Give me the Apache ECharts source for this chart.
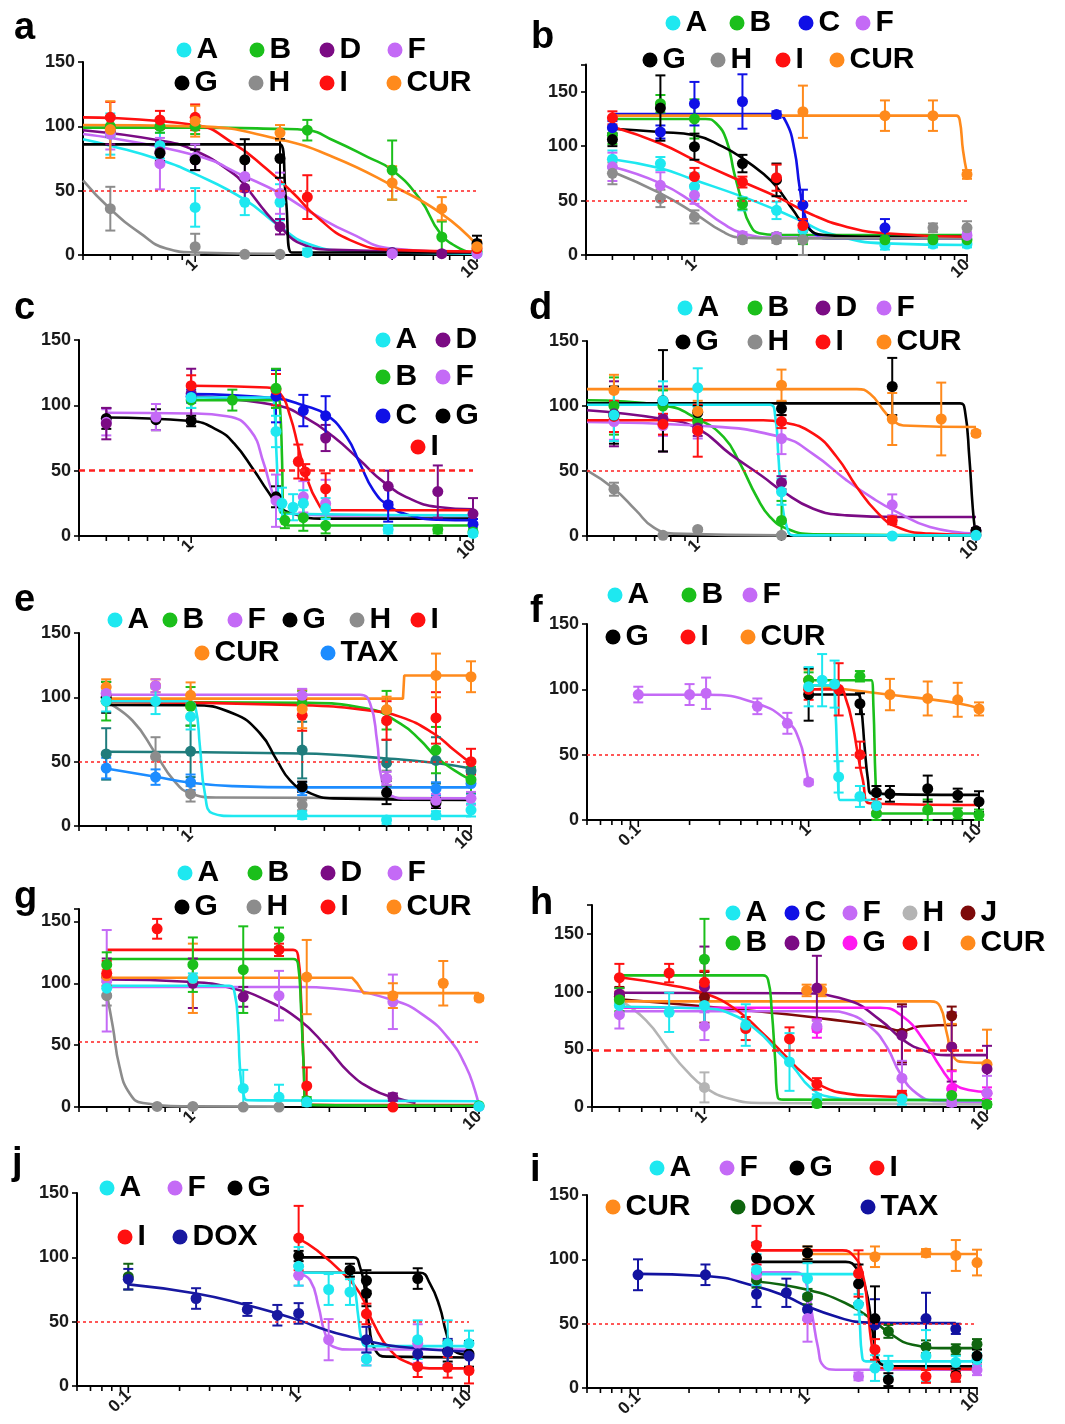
<!DOCTYPE html>
<html>
<head>
<meta charset="utf-8">
<title>Dose-response panels a-j</title>
<script src="https://cdn.jsdelivr.net/npm/echarts@6.0.0/dist/echarts.min.js"></script>
<style>
  html, body { margin: 0; padding: 0; background: #fff; }
  #chart { width: 1065px; height: 1424px; }
</style>
</head>
<body>
<div id="chart"></div>
<script>
// tick labels
var yTickLabels = [0, 50, 100, 150];
var xTickLabels = [0.1, 1, 10];

// points are [concentration, viability %, error]; *_fit are knots

// ---- panel a ----
var a_A = [[0.5, 94, 16], [0.75, 85, 10], [1, 37, 15], [1.5, 41, 10], [2, 41, 14], [2.5, 2, 3], [5, 2, 2], [10, 1, 2]];
var a_A_fit = [[0.4, 90], [0.5, 85], [0.75, 74], [1, 63], [1.5, 43], [2, 22], [2.5, 9], [3.5, 3], [5, 2], [10, 1]];
var a_B = [[0.5, 100, 8], [0.75, 100, 5], [1, 100, 6], [2.5, 97, 8], [5, 66, 23], [7.5, 14, 12], [10, 3, 3]];
var a_B_fit = [[0.4, 99], [1, 99], [2, 98], [2.5, 97], [3.1, 89], [4.1, 76], [5, 66], [6.3, 43], [7.4, 17], [8.7, 5], [10, 1]];
var a_D = [[0.5, 96, 10], [0.75, 80, 8], [1, 74, 8], [1.5, 52, 10], [2, 22, 6], [5, 2, 2], [7.5, 1, 2]];
var a_D_fit = [[0.4, 97], [0.75, 89], [1, 81], [1.37, 63], [1.5, 54], [1.8, 32], [2, 22], [2.36, 9], [3.1, 4], [10, 2]];
var a_F = [[0.5, 94, 12], [0.75, 71, 20], [1, 76, 10], [1.5, 61, 12], [2, 48, 16], [5, 1, 2], [10, 1, 2]];
var a_F_fit = [[0.4, 94], [1, 77.6], [1.5, 61], [2, 48], [2.63, 32], [3.55, 17], [5, 5], [10, 2]];
var a_G = [[0.75, 79, 6], [1, 74, 8], [1.5, 74, 16], [2, 75, 15], [10, 9, 6]];
var a_G_fit = [[0.4, 86], [2.0, 86], [2.1, 43], [2.2, 2], [10, 2]];
var a_H = [[0.5, 36, 17], [1, 6.5, 10], [1.5, 0.5, 1], [2, 0.5, 1]];
var a_H_fit = [[0.4, 58], [0.5, 35.7], [0.64, 16.8], [0.79, 5], [1, 2], [2, 1]];
var a_I = [[0.5, 107, 12], [0.75, 105, 7], [1, 107, 10], [2.5, 45, 17], [10, 5, 3]];
var a_I_fit = [[0.4, 107], [1, 101], [1.37, 86.6], [1.79, 67], [2.23, 48], [2.7, 29.7], [3.55, 11.6], [5, 4], [10, 2.6]];
var a_CUR = [[0.5, 97.5, 22], [1, 104, 12], [2, 95, 6], [5, 56, 13], [7.5, 36, 9], [10, 6.5, 5]];
var a_CUR_fit = [[0.4, 101], [1, 100], [2, 89.7], [3.1, 76], [5, 54], [7.5, 32], [10, 7.8]];

// ---- panel b ----
var b_A = [[0.5, 88, 8], [0.75, 84, 6], [1, 63, 12], [1.5, 47, 6], [2, 41, 8], [2.5, 23, 6], [5, 9, 4], [7.5, 10, 3], [10, 10, 3]];
var b_A_fit = [[0.5, 88], [0.75, 79.6], [1, 68.9], [1.5, 53.6], [2, 41.3], [2.5, 30.6], [3.1, 20], [5, 10.7], [10, 9.2]];
var b_B = [[0.5, 110, 8], [0.75, 139, 8], [1, 125, 18], [1.5, 47, 5], [2, 17, 3], [2.5, 14, 4], [5, 14, 3], [7.5, 14, 3], [10, 14, 3]];
var b_B_fit = [[0.5, 125], [1.1, 125], [1.2, 121], [1.31, 105.6], [1.4, 75], [1.5, 47.4], [1.59, 29], [1.73, 20], [2, 18.4], [10, 18.4]];
var b_C = [[0.5, 117, 6], [0.75, 113, 6], [1, 139, 20], [1.5, 141, 25], [2, 129, 3], [2.5, 46, 14], [5, 25, 8]];
var b_C_fit = [[0.5, 129.5], [2, 129.5], [2.17, 122], [2.33, 96], [2.43, 62.7], [2.57, 32], [2.8, 18.4], [3.13, 15.3], [10, 15.3]];
var b_F = [[0.5, 81, 13], [0.75, 64, 12], [1, 55, 8], [1.5, 18, 3], [2, 17, 3], [10, 18, 3]];
var b_F_fit = [[0.5, 81], [0.75, 65.8], [1, 47.4], [1.27, 29], [1.5, 20], [2, 16], [10, 16]];
var b_G = [[0.5, 106, 6], [0.75, 135, 30], [1, 99.5, 12], [1.5, 84, 8], [2, 69, 15]];
var b_G_fit = [[0.5, 116], [0.75, 113], [1, 110], [1.27, 99.5], [1.5, 88.8], [1.78, 75], [2, 62.7], [2.3, 41.3], [2.57, 26], [2.96, 18.4], [4.15, 16.8], [10, 16.8]];
var b_H = [[0.5, 75, 10], [0.75, 52, 8], [1, 35, 6], [1.5, 14, 3], [2, 14, 3], [2.5, 14, 14], [7.5, 25, 4], [10, 25, 6]];
var b_H_fit = [[0.5, 76.5], [0.75, 56.6], [1, 38.3], [1.27, 21.4], [1.5, 16], [2, 15.3], [10, 15.3]];
var b_I = [[0.5, 126, 6], [1, 72, 8], [1.5, 67, 5], [2, 71, 12], [2.5, 27, 6]];
var b_I_fit = [[0.5, 117.8], [0.75, 102.5], [1, 87.2], [1.5, 67.3], [2, 53.6], [2.72, 36.7], [3.6, 26], [5, 20], [10, 16.8]];
var b_CUR = [[2.5, 131.6, 24], [5, 128, 14], [7.5, 128, 14], [10, 74, 4]];
var b_CUR_fit = [[0.5, 128], [9.14, 128], [9.4, 124], [9.67, 96], [10, 75]];

// ---- panel c ----
var c_A = [[1, 106, 8], [2, 80, 12], [2.1, 25, 12], [2.3, 22, 10], [2.5, 25, 10], [3, 21, 8], [5, 5, 3], [10, 2, 3]];
var c_A_fit = [[1, 106], [1.94, 106], [1.97, 101], [2.01, 60.6], [2.06, 19.7], [2.19, 17], [10, 15.8]];
var c_B = [[1, 104, 6], [1.4, 104, 8], [2, 113, 15], [2.15, 12, 6], [2.5, 14, 10], [3, 8, 6], [7.5, 5, 3], [10, 3, 3]];
var c_B_fit = [[1, 104], [2.04, 104], [2.07, 96], [2.1, 60.6], [2.13, 9.5], [2.25, 8], [10, 8]];
var c_C = [[1, 107, 5], [2, 107, 20], [2.5, 96, 12], [3, 92, 15], [5, 24, 13], [10, 9, 4]];
var c_C_fit = [[1, 108.6], [2, 105.3], [2.5, 100], [3.03, 92.5], [3.56, 75.9], [3.97, 55.5], [4.43, 35], [5, 23.5], [5.97, 15.8], [7.5, 12.5], [10, 12]];
var c_D = [[0.5, 86, 12], [1, 109, 19], [3, 75, 10], [5, 38, 12], [7.5, 34, 20], [10, 17, 12]];
var c_D_fit = [[1, 107], [2, 100], [2.57, 90], [3.2, 75.9], [3.97, 58], [4.81, 41.4], [5.97, 28.6], [7.5, 22.2], [10, 20.4]];
var c_F = [[0.5, 87, 10], [0.75, 91, 10], [2, 27, 20], [2.5, 30, 12], [3, 25, 18]];
var c_F_fit = [[0.5, 94.3], [1, 93.8], [1.34, 91.7], [1.62, 81], [1.81, 55.5], [1.93, 35], [2.07, 21], [2.25, 17], [3.2, 15.8], [10, 15.8]];
var c_G = [[0.5, 90, 8], [0.75, 89, 8], [1, 88, 4], [2, 30, 8]];
var c_G_fit = [[0.5, 90.7], [1, 88], [1.24, 81], [1.42, 70.8], [1.67, 50.3], [1.86, 35], [2.07, 22], [2.31, 17], [2.87, 13.3], [10, 13.3]];
var c_I = [[1, 115, 8], [2, 112, 12], [2.4, 57, 13], [2.54, 49, 6], [3, 36, 12]];
var c_I_fit = [[1, 115], [1.86, 113.7], [2.07, 109], [2.25, 91], [2.4, 68], [2.57, 45], [2.79, 27], [3.03, 19.7], [10, 19.7]];

// ---- panel d ----
var d_A = [[0.5, 93, 20], [0.75, 104, 15], [1, 114, 15], [2, 34, 10], [5, 0, 1], [10, 0.5, 1]];
var d_A_fit = [[0.4, 101], [1.82, 101], [1.9, 91.5], [1.95, 60.8], [2, 30], [2.09, 7], [2.21, 0.5], [10, 0.5]];
var d_B = [[0.5, 100, 22], [0.75, 100, 12], [1, 88, 8], [2, 12, 15], [10, 1, 1]];
var d_B_fit = [[0.4, 104.4], [0.75, 100.5], [1, 90], [1.24, 76], [1.42, 55.6], [1.63, 30], [1.82, 14.6], [2.09, 5.6], [2.6, 1.3], [10, 0.5]];
var d_D = [[0.5, 94, 25], [0.75, 90, 25], [1, 83, 6], [2, 41, 5], [10, 4, 2]];
var d_D_fit = [[0.4, 96.7], [0.75, 90], [1, 82.6], [1.31, 63], [1.72, 45.4], [2, 35], [2.6, 21], [3.43, 15.9], [5.2, 14.6], [10, 14.6]];
var d_F = [[0.5, 88, 14], [0.75, 85, 8], [1, 81, 6], [2, 75, 12], [5, 24, 8], [10, 0.5, 1]];
var d_F_fit = [[0.4, 87.7], [1, 85], [2, 76], [2.6, 63], [3.43, 42.8], [4.28, 28.7], [5.19, 18.5], [6.83, 7], [10, 1.8]];
var d_G = [[0.5, 93, 22], [0.75, 104, 39], [1, 95, 5], [2, 98, 5], [5, 115, 22], [10, 4, 2]];
var d_G_fit = [[0.4, 102], [8.77, 102], [9.12, 96.7], [9.46, 60.8], [9.73, 22.3], [9.92, 4.4], [10, 2.3]];
var d_H = [[0.5, 36, 5], [0.75, 0.5, 1], [1, 5, 1], [2, 0.5, 1]];
var d_H_fit = [[0.4, 50.5], [0.5, 36.4], [0.6, 19.7], [0.69, 7], [0.82, 1.8], [2, 0.5]];
var d_I = [[0.5, 92, 12], [0.75, 86, 8], [1, 81, 20], [2, 88, 5], [5, 12, 3]];
var d_I_fit = [[0.4, 89], [1.72, 89], [2, 87.7], [2.6, 78.7], [3.16, 60.8], [3.73, 37.7], [4.4, 18.5], [5.19, 7], [6.83, 1.8], [10, 0.8]];
var d_CUR = [[0.5, 112, 12], [1, 96, 8], [2, 116, 12], [5, 90, 20], [7.5, 90, 28], [10, 79, 2]];
var d_CUR_fit = [[0.4, 113], [3.73, 113], [4.16, 109.5], [4.65, 96.7], [5.02, 89], [5.48, 85], [10, 83.8]];

// ---- panel e ----
var e_A = [[0.5, 97, 8], [0.75, 97, 10], [1, 85, 10], [2.5, 8.5, 3], [5, 4.7, 3], [7.5, 8.5, 3], [10, 12.4, 5]];
var e_A_fit = [[0.5, 97], [0.99, 97], [1.04, 92.6], [1.08, 61.5], [1.125, 25], [1.2, 9.8], [1.42, 7.8], [10, 7.8]];
var e_B = [[0.5, 97, 15], [1, 93, 15], [2.5, 95, 10], [5, 90, 15], [7.5, 59, 18], [10, 36, 10]];
var e_B_fit = [[0.5, 96.5], [2.5, 95.7], [4.25, 91.3], [5.6, 79.6], [6.6, 66.7], [7.5, 53.8], [8.7, 43.4], [10, 35.7]];
var e_F = [[0.5, 103, 5], [0.75, 109, 5], [2.5, 101.6, 5], [5, 37, 5], [7.5, 20, 5], [10, 21.5, 5]];
var e_F_fit = [[0.5, 102], [4.02, 102], [4.37, 95], [4.62, 66.7], [4.81, 35.7], [5.15, 24], [5.9, 21.5], [10, 21.5]];
var e_G = [[0.5, 100, 12], [2.5, 30.5, 4], [5, 26, 9], [7.5, 18, 4]];
var e_G_fit = [[0.5, 94], [1, 93.9], [1.42, 87.4], [1.77, 71.9], [2.03, 51.2], [2.26, 35.7], [2.6, 26.6], [3.23, 21.5], [10, 20.2]];
var e_H = [[0.75, 54, 15], [1, 25, 6], [2.5, 16.3, 4], [5, 37, 6]];
var e_H_fit = [[0.5, 96.5], [0.62, 82], [0.75, 56.4], [0.87, 35.7], [1, 25.3], [1.24, 22.2], [10, 21.5]];
var e_I = [[2.5, 86, 12], [5, 82, 15], [7.5, 84, 20], [10, 50, 10]];
var e_I_fit = [[0.5, 96.5], [2.5, 93.9], [4.25, 90], [5.6, 84.8], [7.36, 71.9], [8.7, 59], [10, 48.6]];
var e_CUR = [[0.5, 108, 6], [0.75, 109, 5], [1, 101.6, 10], [2.5, 91, 15], [5, 90.5, 10], [7.5, 117, 17], [10, 116, 12]];
var e_CUR_fit = [[0.5, 99], [5.72, 99], [5.78, 117], [10, 117]];
var e_TAX = [[0.5, 45, 8], [0.75, 38, 6], [1, 34, 6], [2.5, 29, 5], [7.5, 29, 5], [10, 33, 8]];
var e_TAX_fit = [[0.5, 44.7], [0.75, 38.3], [1, 33.6], [1.42, 31], [2.5, 30], [10, 30]];
var e_X = [[0.5, 56, 20], [1, 58, 20], [2.5, 59, 22], [5, 49, 18], [7.5, 51, 18], [10, 43, 8]];
var e_X_fit = [[0.5, 57.7], [2.5, 56.4], [5, 52.5], [7.5, 49], [10, 44.7]];

// ---- panel f ----
var f_A = [[1, 102, 15], [1.2, 107, 20], [1.42, 104, 18], [1.5, 33, 12], [2, 18, 8], [2.5, 11, 8]];
var f_A_fit = [[1, 103], [1.4, 103], [1.44, 81.8], [1.48, 40.9], [1.53, 15.3], [2.5, 15.3]];
var f_B = [[1, 107, 6], [2, 110, 4], [2.5, 5, 5], [5, 7.7, 8], [7.5, 5, 4], [10, 4, 4]];
var f_B_fit = [[1, 107], [2.33, 107], [2.4, 86.9], [2.47, 30.7], [2.55, 5], [10, 5]];
var f_F = [[0.1, 96, 6], [0.2, 96, 8], [0.25, 97, 12], [0.5, 87, 6], [0.75, 74, 8], [1, 29, 2]];
var f_F_fit = [[0.1, 95.8], [0.25, 95.8], [0.5, 89], [0.75, 75.4], [0.88, 61.3], [0.96, 40.9], [1, 28.9]];
var f_G = [[1, 96, 20], [2, 89, 8], [2.5, 21, 5], [3, 20, 6], [5, 24, 10], [7.5, 19, 5], [10, 14, 8]];
var f_G_fit = [[1, 96], [1.94, 96], [2.03, 86.9], [2.13, 56.2], [2.23, 30.7], [2.33, 20.4], [10, 19.2]];
var f_I = [[1, 100, 8], [1.5, 100, 20], [2, 50, 10], [2.5, 11, 5]];
var f_I_fit = [[1, 100], [1.52, 100], [1.66, 92], [1.82, 71.6], [1.94, 51], [2.08, 30.7], [2.28, 12.8], [10, 11.5]];
var f_CUR = [[1, 107, 8], [3, 96, 12], [5, 93, 13], [7.5, 92, 13], [10, 85, 5]];
var f_CUR_fit = [[1, 103.5], [3, 95.8], [5, 92.5], [7.5, 89.4], [10, 85.6]];

// ---- panel g ----
var g_A = [[0.5, 96, 5], [1, 104, 4], [1.5, 15, 15], [2, 8, 10], [2.5, 4, 3], [10, 0.5, 1]];
var g_A_fit = [[0.5, 98], [1.34, 98], [1.4, 91.8], [1.44, 65], [1.46, 32.7], [1.5, 11.3], [1.56, 5.4], [10, 4.6]];
var g_B = [[0.5, 115, 10], [1, 115, 22], [1.5, 111, 35], [2, 137, 8], [2.5, 5, 3], [10, 1, 1]];
var g_B_fit = [[0.5, 119.6], [2.24, 119.6], [2.33, 116], [2.39, 78], [2.44, 32.7], [2.49, 1.9], [10, 1]];
var g_D = [[0.5, 105, 15], [1, 100, 20], [1.5, 89, 8], [5, 8, 3]];
var g_D_fit = [[0.5, 103], [1, 101], [1.38, 95.8], [1.8, 86.4], [2.36, 70.3], [2.93, 48.8], [3.53, 27.4], [4.26, 14], [5, 8], [6, 3.2]];
var g_F = [[0.5, 102, 41], [2, 90, 20], [5, 85, 22], [10, 0.5, 1]];
var g_F_fit = [[0.5, 97], [2.36, 97], [3.09, 95.8], [5, 86.4], [6.5, 73], [7.9, 54.2], [9, 32.7], [9.66, 14], [10, 0.5]];
var g_G = [];
var g_H = [[0.5, 90, 8], [0.75, 0.5, 1], [1, 0.5, 1], [1.5, 0, 1], [2, 0, 1]];
var g_H_fit = [[0.5, 92], [0.525, 65], [0.554, 32.7], [0.6, 11.3], [0.67, 3.2], [1, 0.5], [2, 0.3]];
var g_I = [[0.5, 108, 10], [0.75, 144, 8], [2, 127, 5], [2.5, 17, 15], [5, 0, 1]];
var g_I_fit = [[0.5, 127], [2.24, 127], [2.33, 122.6], [2.39, 86.4], [2.44, 32.7], [2.49, 2], [10, 1.5]];
var g_CUR = [[0.5, 106, 5], [1, 104, 28], [2.5, 105, 30], [5, 90, 10], [7.5, 100, 18], [10, 88, 2]];
var g_CUR_fit = [[0.5, 104.5], [3.6, 104.5], [3.75, 100], [3.95, 92], [10, 92]];

// ---- panel h ----
var h_A = [[0.5, 88, 8], [0.75, 82, 17], [1, 88, 18], [1.4, 71, 18], [2, 39, 25], [2.5, 7, 4], [5, 7, 5]];
var h_A_fit = [[0.5, 86.9], [1, 85.4], [1.23, 81], [1.53, 66.6], [1.8, 49.2], [2.06, 34.8], [2.36, 17.4], [2.78, 8.7], [3.65, 6.4], [10, 5.8]];
var h_B = [[0.5, 93, 10], [1, 128, 35], [2.5, 3, 3], [7.5, 10, 5], [10, 2.3, 2]];
var h_B_fit = [[0.5, 114], [1.61, 114], [1.68, 110], [1.73, 84], [1.78, 40.5], [1.82, 8], [1.9, 6.4], [10, 5.8]];
var h_C = [];
var h_D = [[0.5, 98, 5], [1, 104, 35], [2.5, 103, 28], [5, 62, 25], [7.5, 52, 30], [10, 33, 20]];
var h_D_fit = [[0.5, 99], [2.12, 98.5], [3.19, 92.7], [4.19, 75.3], [5.06, 57.9], [5.96, 49.2], [7.2, 44.9], [10, 44.9]];
var h_F = [[0.5, 80, 12], [1, 70, 12], [2.5, 70, 5], [5, 25, 15], [7.5, 4, 3], [10, 12, 15]];
var h_F_fit = [[0.5, 83], [2.78, 83], [3.19, 81], [3.86, 69.5], [4.42, 52], [4.93, 29], [5.65, 11.6], [6.65, 5.2], [10, 4.3]];
var h_G = [[2.5, 68, 8], [7.5, 16, 15], [10, 12, 5]];
var h_G_fit = [[0.5, 86], [4.19, 86], [5.06, 78], [5.96, 58], [6.83, 34.8], [7.62, 20.3], [8.73, 14.5], [10, 13]];
var h_H = [[0.5, 90, 8], [1, 17, 13]];
var h_H_fit = [[0.5, 92.7], [0.62, 75.3], [0.75, 49.2], [0.86, 31.9], [1, 17.4], [1.23, 7.2], [1.61, 3.5], [10, 2.3]];
var h_I = [[0.5, 112, 12], [0.75, 116, 8], [1, 108, 10], [1.4, 68, 10], [2, 59, 10], [2.5, 20, 5], [5, 10, 4]];
var h_I_fit = [[0.5, 112.4], [0.75, 105.7], [1, 98.5], [1.3, 84], [1.61, 63.7], [1.9, 46.3], [2.24, 29], [2.64, 17.4], [3.19, 11.6], [4.19, 9.3], [5, 8.7]];
var h_J = [[0.5, 96, 8], [1, 95, 22], [5, 64, 25], [7.5, 79, 8]];
var h_J_fit = [[0.5, 93.3], [1.6, 82.5], [2.78, 75.9], [4.19, 70], [5, 66], [5.8, 70], [7.8, 71]];
var h_CUR = [[2.3, 101, 5], [2.6, 101, 5], [7.5, 52, 20], [10, 37, 30]];
var h_CUR_fit = [[0.5, 91.5], [6.3, 91.5], [6.83, 86.9], [7.21, 63.7], [7.62, 43.4], [8.26, 39], [10, 38.2]];

// ---- panel j ----
var j_A = [[1, 93, 15], [1.5, 75, 12], [2, 73, 10], [2.5, 21, 5], [5, 36, 15], [7.5, 33, 18], [10, 33, 10]];
var j_A_fit = [[1, 88], [1.92, 88], [2.1, 79.6], [2.24, 53.8], [2.35, 35.7], [2.51, 31], [10, 31]];
var j_F = [[1, 86, 8], [1.5, 36, 16], [2.5, 21, 5], [5, 33, 15]];
var j_F_fit = [[1, 87.4], [1.17, 82], [1.31, 61.5], [1.43, 40.9], [1.6, 30.5], [2, 28.4], [10, 28.4]];
var j_G = [[1, 101, 4], [2, 90, 5], [2.5, 82, 8], [2.5, 72, 10], [5, 83.5, 8], [7.5, 27, 8], [10, 25, 10]];
var j_G_fit = [[1, 100], [2.1, 100], [2.29, 92.6], [2.45, 74.5], [2.6, 46], [2.81, 28], [3.28, 22.8], [10, 22.2]];
var j_G2_fit = [[1, 88], [5.15, 88], [5.9, 79.6], [6.73, 61.5], [7.37, 40.9], [8.06, 28], [10, 24]];
var j_I = [[1, 115, 25], [2.5, 56, 8], [5, 15, 8], [7.5, 14.5, 8], [10, 12, 10]];
var j_I_fit = [[1, 114.6], [1.28, 105.5], [1.83, 87.4], [2.29, 72], [2.75, 48.6], [3.44, 28], [4.5, 17.6], [6.16, 13.7], [10, 13.7]];
var j_DOXg = [[0.1, 85, 10]];
var j_DOX = [[0.1, 83, 8], [0.25, 68, 8], [0.5, 59.5, 5], [0.75, 55, 8], [1, 56.4, 8], [2.5, 36, 10], [5, 25, 10], [7.5, 26.6, 10], [10, 23.3, 10]];
var j_DOX_fit = [[0.1, 79], [0.25, 71.9], [0.5, 62.8], [0.75, 56.4], [1, 51.2], [1.46, 43.4], [2, 38.3], [2.5, 35.2], [3.9, 30.5], [10, 26.6]];

// ---- panel i ----
var i_A = [[0.5, 92, 12], [1, 85, 12], [2, 65, 8], [2.5, 15.5, 10], [3, 17, 8], [5, 25, 20], [7.5, 20, 5], [10, 22, 5]];
var i_A_fit = [[0.5, 88.5], [1.89, 88.5], [1.97, 78.9], [2.04, 47.8], [2.09, 27.2], [2.21, 20.7], [10, 20.7]];
var i_F = [[0.5, 88, 8], [1, 54, 18], [2, 9, 3], [10, 14, 4]];
var i_F_fit = [[0.5, 90], [0.85, 90], [0.98, 81.5], [1.07, 55.6], [1.15, 32.3], [1.25, 16.8], [1.47, 14.2], [10, 14.2]];
var i_G = [[0.5, 101, 12], [1, 105, 5], [2, 81, 15], [2.5, 54, 25], [3, 6.5, 5], [7.5, 10, 5], [10, 25, 5]];
var i_G_fit = [[0.5, 98], [1.68, 98], [1.97, 91.8], [2.21, 76.3], [2.37, 53], [2.53, 29.7], [2.77, 18], [3.32, 16.8], [10, 16.8]];
var i_I = [[0.5, 111, 15], [2, 89, 18], [2.5, 30, 8], [5, 9, 5], [7.5, 9, 4]];
var i_I_fit = [[0.5, 107], [1.61, 107], [1.89, 102], [2.11, 89.2], [2.26, 63.4], [2.37, 37.5], [2.53, 19.4], [2.77, 15.5], [10, 14.7]];
var i_CUR = [[1, 105, 5], [2.5, 102, 8], [5, 105, 3], [7.5, 103, 12], [10, 97.5, 10]];
var i_CUR_fit = [[1, 104.2], [10, 104.2]];
var i_DOX = [[0.5, 84, 6], [1, 71, 6], [3, 44, 5], [5, 32, 5], [7.5, 30, 4], [10, 34, 4]];
var i_DOX_fit = [[0.5, 82.8], [1, 76.3], [1.68, 65.9], [2.42, 53], [3.04, 42.7], [4.17, 33.6], [6.56, 31], [10, 31]];
var i_TAX = [[0.1, 88, 12], [0.25, 88, 8], [0.5, 73, 10], [0.75, 74, 11], [1, 61, 8], [2.5, 49, 20], [5, 54, 20], [7.5, 46, 4]];
var i_TAX_fit = [[0.1, 88.7], [0.25, 87.1], [0.5, 78.9], [0.75, 71.1], [1, 63.4], [1.47, 55.6], [2.11, 51], [3.32, 50.4], [7.5, 50.4]];

var FONT = "'Liberation Sans', Arial, sans-serif";
var COL = {
    A: '#1ee8f0', B: '#1bbf1b', C: '#1010e6', D: '#7b0b84', F: '#c46af6', G: '#000000',
    H: '#8c8c8c', I: '#ff1010', J: '#7d0a0a', CUR: '#ff8a1c', TAX: '#1c8cff', DOX: '#1818a0'
};

// layout of each panel: grid box [left, top, width, height], legend items [name, iconCenterX, iconCenterY]
var panels = [
    { id: 'a', box: [83, 62, 394, 193], xMin: 0.4, yMax: 150, ref: 50, dash: [3, 3], refW: 1.5, letter: [14, 10],
      legend: [['A', 184, 50], ['B', 257, 50], ['D', 327, 50], ['F', 395, 50], ['G', 182, 83], ['H', 256, 83], ['I', 327, 83], ['CUR', 394, 83]],
      sets: [['A', a_A, a_A_fit], ['B', a_B, a_B_fit], ['D', a_D, a_D_fit], ['F', a_F, a_F_fit], ['G', a_G, a_G_fit], ['H', a_H, a_H_fit], ['I', a_I, a_I_fit], ['CUR', a_CUR, a_CUR_fit]] },
    { id: 'b', box: [586, 64.5, 381, 190.5], xMin: 0.4, yMax: 175, ref: 50, dash: [3, 3], refW: 1.5, letter: [531, 19],
      legend: [['A', 673, 23], ['B', 737, 23], ['C', 806, 23], ['F', 863, 23], ['G', 650, 60], ['H', 718, 60], ['I', 783, 60], ['CUR', 837, 60]],
      sets: [['A', b_A, b_A_fit], ['B', b_B, b_B_fit], ['C', b_C, b_C_fit], ['F', b_F, b_F_fit], ['G', b_G, b_G_fit], ['H', b_H, b_H_fit], ['I', b_I, b_I_fit], ['CUR', b_CUR, b_CUR_fit]] },
    { id: 'c', box: [79, 340, 394, 196], xMin: 0.4, yMax: 150, ref: 50, dash: [6, 4], refW: 2.5, letter: [14, 290],
      legend: [['A', 383, 340], ['D', 443, 340], ['B', 383, 377], ['F', 443, 377], ['C', 383, 416], ['G', 443, 416], ['I', 418, 447]],
      sets: [['G', c_G, c_G_fit], ['F', c_F, c_F_fit], ['D', c_D, c_D_fit], ['C', c_C, c_C_fit], ['I', c_I, c_I_fit], ['B', c_B, c_B_fit], ['A', c_A, c_A_fit]] },
    { id: 'd', box: [587, 341, 389, 195], xMin: 0.4, yMax: 150, ref: 50, dash: [3, 3], refW: 1.5, letter: [529, 290],
      legend: [['A', 685, 308], ['B', 755, 308], ['D', 823, 308], ['F', 884, 308], ['G', 683, 342], ['H', 755, 342], ['I', 823, 342], ['CUR', 884, 342]],
      sets: [['H', d_H, d_H_fit], ['B', d_B, d_B_fit], ['D', d_D, d_D_fit], ['F', d_F, d_F_fit], ['I', d_I, d_I_fit], ['G', d_G, d_G_fit], ['CUR', d_CUR, d_CUR_fit], ['A', d_A, d_A_fit]] },
    { id: 'e', box: [79, 633, 392, 193], xMin: 0.4, yMax: 150, ref: 50, dash: [3, 3], refW: 1.5, letter: [14, 582],
      legend: [['A', 115, 620], ['B', 170, 620], ['F', 235, 620], ['G', 290, 620], ['H', 357, 620], ['I', 418, 620], ['CUR', 202, 653], ['TAX', 328, 653]],
      sets: [['H', e_H, e_H_fit], ['X', e_X, e_X_fit, { color: '#1f7c7c' }], ['TAX', e_TAX, e_TAX_fit], ['G', e_G, e_G_fit], ['B', e_B, e_B_fit], ['I', e_I, e_I_fit], ['CUR', e_CUR, e_CUR_fit, { smooth: 0 }], ['F', e_F, e_F_fit], ['A', e_A, e_A_fit]] },
    { id: 'f', box: [587, 624, 392, 196], xMin: 0.05, yMax: 150, ref: 50, dash: [3, 3], refW: 1.5, letter: [530, 593],
      legend: [['A', 615, 595], ['B', 689, 595], ['F', 750, 595], ['G', 613, 637], ['I', 688, 637], ['CUR', 748, 637]],
      sets: [['F', f_F, f_F_fit], ['CUR', f_CUR, f_CUR_fit], ['B', f_B, f_B_fit], ['G', f_G, f_G_fit], ['I', f_I, f_I_fit], ['A', f_A, f_A_fit]] },
    { id: 'g', box: [79, 909, 400, 198], xMin: 0.4, yMax: 160, ref: 53, dash: [3, 3], refW: 1.5, letter: [14, 879],
      legend: [['A', 185, 873], ['B', 255, 873], ['D', 328, 873], ['F', 395, 873], ['G', 182, 907], ['H', 254, 907], ['I', 328, 907], ['CUR', 394, 907]],
      sets: [['G', g_G, null], ['H', g_H, g_H_fit], ['D', g_D, g_D_fit], ['F', g_F, g_F_fit], ['CUR', g_CUR, g_CUR_fit, { smooth: 0 }], ['I', g_I, g_I_fit], ['B', g_B, g_B_fit], ['A', g_A, g_A_fit]] },
    { id: 'h', box: [592, 905, 395, 202], xMin: 0.4, yMax: 175, ref: 49, dash: [7, 5], refW: 2.5, letter: [530, 885],
      legend: [['A', 733, 913], ['C', 792, 913], ['F', 850, 913], ['H', 910, 913], ['J', 968, 913], ['B', 733, 943], ['D', 792, 943], ['G', 850, 943], ['I', 910, 943], ['CUR', 968, 943]],
      sets: [['C', h_C, null], ['H', h_H, h_H_fit, { color: '#b4b4b4' }], ['J', h_J, h_J_fit], ['CUR', h_CUR, h_CUR_fit], ['D', h_D, h_D_fit], ['G', h_G, h_G_fit, { color: '#ff18f0' }], ['F', h_F, h_F_fit], ['I', h_I, h_I_fit], ['A', h_A, h_A_fit], ['B', h_B, h_B_fit]] },
    { id: 'j', box: [77, 1193, 392, 193], xMin: 0.05, yMax: 150, ref: 50, dash: [3, 3], refW: 1.5, letter: [12, 1145],
      legend: [['A', 107, 1188], ['F', 175, 1188], ['G', 235, 1188], ['I', 125, 1237], ['DOX', 180, 1237]],
      sets: [['G2', [], j_G2_fit, { color: '#000000' }], ['G', j_G, j_G_fit], ['I', j_I, j_I_fit], ['F', j_F, j_F_fit], ['A', j_A, j_A_fit], ['DOXg', j_DOXg, null, { color: '#146414' }], ['DOX', j_DOX, j_DOX_fit]] },
    { id: 'i', box: [587, 1195, 390, 193], xMin: 0.05, yMax: 150, ref: 50, dash: [3, 3], refW: 1.5, letter: [530, 1152],
      legend: [['A', 657, 1168], ['F', 727, 1168], ['G', 797, 1168], ['I', 877, 1168], ['CUR', 613, 1207], ['DOX', 738, 1207], ['TAX', 868, 1207]],
      sets: [['CUR', i_CUR, i_CUR_fit], ['DOX', i_DOX, i_DOX_fit, { color: '#0f650f' }], ['TAX', i_TAX, i_TAX_fit, { color: '#1212a0' }], ['F', i_F, i_F_fit], ['A', i_A, i_A_fit], ['G', i_G, i_G_fit], ['I', i_I, i_I_fit]] }
];

function errBar(color) {
    return function (params, api) {
        var x = api.value(0), y = api.value(1), e = api.value(2);
        var hi = api.coord([x, y + e]);
        var lo = api.coord([x, Math.max(0, y - e)]);
        var st = { stroke: color, lineWidth: 2 };
        return {
            type: 'group', children: [
                { type: 'line', shape: { x1: hi[0], y1: hi[1], x2: lo[0], y2: lo[1] }, style: st },
                { type: 'line', shape: { x1: hi[0] - 5, y1: hi[1], x2: hi[0] + 5, y2: hi[1] }, style: st },
                { type: 'line', shape: { x1: lo[0] - 5, y1: lo[1], x2: lo[0] + 5, y2: lo[1] }, style: st }
            ]
        };
    };
}

// log-axis tick values (major at powers of ten)
function tickValues(xMin) {
    var out = [];
    [0.01, 0.1, 1].forEach(function (d) {
        for (var k = 1; k <= 9; k++) {
            var v = +(k * d).toFixed(4);
            if (v >= xMin - 1e-9 && v < 10) out.push([v, k === 1 ? 1 : 0]);
        }
    });
    out.push([10, 1]);
    return out;
}

function renderTick(params, api) {
    var p = api.coord([api.value(0), 0]);
    var len = api.value(1) ? 7 : 5;
    return { type: 'line', shape: { x1: p[0], y1: p[1], x2: p[0], y2: p[1] + len }, style: { stroke: '#000', lineWidth: 1.6 } };
}

var grids = [], xAxes = [], yAxes = [], series = [], legends = [], graphics = [];

panels.forEach(function (p, gi) {
    grids.push({ left: p.box[0], top: p.box[1], width: p.box[2], height: p.box[3] });
    xAxes.push({
        gridIndex: gi, type: 'log', logBase: 10, min: p.xMin, max: 10,
        axisLine: { lineStyle: { color: '#000', width: 2 } },
        axisTick: { show: false }, minorTick: { show: false }, splitLine: { show: false },
        axisLabel: {
            rotate: 45, margin: 7, fontSize: 17, fontWeight: 'bold', fontFamily: FONT, color: '#1a1a1a',
            formatter: function (v) {
                return xTickLabels.some(function (t) { return Math.abs(t - v) < 1e-6; }) ? String(v) : '';
            }
        }
    });
    yAxes.push({
        gridIndex: gi, type: 'value', min: 0, max: p.yMax, interval: 50,
        axisLine: { show: true, lineStyle: { color: '#000', width: 2 } },
        axisTick: { show: true, length: 5, lineStyle: { color: '#000', width: 1.6 } },
        splitLine: { show: false },
        axisLabel: {
            margin: 8, fontSize: 18, fontWeight: 'bold', fontFamily: FONT, color: '#1a1a1a',
            formatter: function (v) { return yTickLabels.indexOf(v) >= 0 ? String(v) : ''; }
        }
    });

    series.push({
        name: 'ticks-' + p.id, type: 'custom', xAxisIndex: gi, yAxisIndex: gi,
        data: tickValues(p.xMin), renderItem: renderTick, silent: true, z: 1,
        markLine: {
            silent: true, symbol: ['none', 'none'], label: { show: false },
            lineStyle: { color: '#ff2020', type: p.dash, width: p.refW },
            data: [{ yAxis: p.ref }]
        }
    });

    p.sets.forEach(function (s) {
        var key = s[0], pts = s[1], fit = s[2], o = s[3] || {};
        var color = o.color || COL[key];
        var name = p.id + '-' + key;
        series.push({
            name: name, type: 'scatter', xAxisIndex: gi, yAxisIndex: gi,
            data: pts.map(function (q) { return [q[0], q[1]]; }),
            symbol: 'circle', symbolSize: 11, itemStyle: { color: color, opacity: 1 }, z: 4, silent: true
        });
        if (pts.length) {
            series.push({
                name: name, type: 'custom', xAxisIndex: gi, yAxisIndex: gi, data: pts,
                renderItem: errBar(color), itemStyle: { color: color }, z: 3, silent: true
            });
        }
        if (fit) {
            series.push({
                name: name, type: 'line', xAxisIndex: gi, yAxisIndex: gi, data: fit,
                showSymbol: false, smooth: o.smooth === undefined ? 0.5 : o.smooth,
                lineStyle: { color: color, width: 2.6 }, itemStyle: { color: color }, z: 2, silent: true
            });
        }
    });

    p.legend.forEach(function (it) {
        legends.push({
            data: [{ name: p.id + '-' + it[0], icon: 'circle' }],
            left: it[1] - 7.5, top: it[2] - 16, padding: 0, itemWidth: 15, itemHeight: 15, itemGap: 0,
            selectedMode: false,
            formatter: function (n) { return n.slice(n.indexOf('-') + 1); },
            textStyle: { fontSize: 30, fontWeight: 'bold', fontFamily: FONT, color: '#000', lineHeight: 32 }
        });
    });

    graphics.push({
        type: 'text', left: p.letter[0], top: p.letter[1], silent: true,
        style: { text: p.id, fontSize: 38, fontWeight: 'bold', fontFamily: FONT, fill: '#000' }
    });
});

var chart = echarts.init(document.getElementById('chart'), null, { renderer: 'canvas' });
chart.setOption({
    backgroundColor: '#ffffff',
    animation: false,
    grid: grids,
    xAxis: xAxes,
    yAxis: yAxes,
    legend: legends,
    graphic: graphics,
    series: series
});
</script>
</body>
</html>
